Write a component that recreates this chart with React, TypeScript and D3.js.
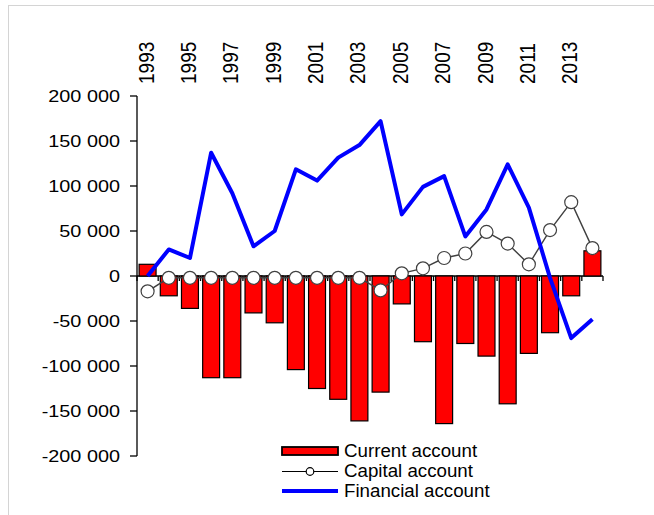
import { useEffect, useRef } from "react";
import * as d3 from "d3";

// categories
const years = [
  "1993", "1994", "1995", "1996", "1997", "1998", "1999", "2000", "2001", "2002", "2003",
  "2004", "2005", "2006", "2007", "2008", "2009", "2010", "2011", "2012", "2013", "2014",
];
const yearLabels = ["1993", "1995", "1997", "1999", "2001", "2003", "2005", "2007", "2009", "2011", "2013"];

// series
const currentAccount = [
  13000, -22000, -36000, -113000, -113000, -41000, -52000, -104000, -125000, -137000, -161000,
  -129000, -31000, -73000, -164000, -75000, -89000, -142000, -86000, -63000, -22000, 28000,
];
const capitalAccount = [
  -17000, -2000, -2000, -2000, -2000, -2000, -2000, -2000, -2000, -2000, -2000,
  -16000, 3000, 8500, 20000, 25000, 49000, 36000, 13000, 51000, 82000, 31000,
];
const financialAccount = [
  0, 29500, 20000, 137000, 92000, 33000, 50000, 118500, 106000, 131500, 145500,
  172000, 68500, 99000, 111000, 44000, 74000, 124000, 76000, -2000, -69000, -48000,
];

const yTicks = [200000, 150000, 100000, 50000, 0, -50000, -100000, -150000, -200000];
const legendItems = ["Current account", "Capital account", "Financial account"];

const FONT = "'Liberation Sans', Arial, sans-serif";

const App = () => {
  const svgRef = useRef(null);

  useEffect(() => {
    const svg = d3.select(svgRef.current);
    svg.selectAll("*").remove();

    const width = 654;
    const height = 515;
    const left = 137, right = 603, top = 96, bottom = 456;

    const x = d3.scaleBand().domain(years).range([left, right]).paddingInner(0.2).paddingOuter(0.1);
    const step = x.step();
    const cx = (yr) => x(yr) + x.bandwidth() / 2;
    const y = d3.scaleLinear().domain([-200000, 200000]).range([bottom, top]);

    const fmt = d3.formatLocale({ decimal: ",", thousands: " ", grouping: [3], currency: ["", ""], minus: "-" }).format(",");

    // cadre gris (haut et gauche)
    svg.append("rect")
      .attr("x", 8.5).attr("y", 5.5)
      .attr("width", width + 20).attr("height", height + 20)
      .attr("fill", "white").attr("stroke", "#d4d4d4");

    const g = svg.append("g");

    // axe Y
    g.append("line")
      .attr("x1", left).attr("x2", left).attr("y1", top).attr("y2", bottom)
      .attr("stroke", "#000").attr("stroke-width", 1.3);
    yTicks.forEach((t) => {
      g.append("line")
        .attr("x1", left - 7).attr("x2", left).attr("y1", y(t)).attr("y2", y(t))
        .attr("stroke", "#000").attr("stroke-width", 1.3);
      g.append("text")
        .attr("transform", `translate(120,${y(t) + 5.8}) scale(1.24,1)`)
        .attr("text-anchor", "end")
        .attr("font-family", FONT).attr("font-size", 16).attr("fill", "#000")
        .text(fmt(t));
    });

    // axe X à zéro
    g.append("line")
      .attr("x1", left).attr("x2", right).attr("y1", y(0)).attr("y2", y(0))
      .attr("stroke", "#000").attr("stroke-width", 1.3);
    d3.range(years.length + 1).forEach((i) => {
      const xx = left + i * step;
      g.append("line")
        .attr("x1", xx).attr("x2", xx).attr("y1", y(0)).attr("y2", y(0) + 5)
        .attr("stroke", "#000").attr("stroke-width", 1.3);
    });

    // années en haut
    yearLabels.forEach((yr) => {
      g.append("text")
        .attr("transform", `translate(${cx(yr) + 6},84) rotate(-90) scale(1,1.15)`)
        .attr("text-anchor", "start")
        .attr("font-family", FONT).attr("font-size", 19).attr("fill", "#000")
        .text(yr);
    });

    // barres
    g.selectAll(".bar")
      .data(currentAccount)
      .enter()
      .append("rect")
      .attr("class", "bar")
      .attr("x", (d, i) => x(years[i]))
      .attr("y", (d) => y(Math.max(0, d)))
      .attr("width", x.bandwidth())
      .attr("height", (d) => Math.abs(y(d) - y(0)))
      .attr("fill", "#ff0000")
      .attr("stroke", "#000")
      .attr("stroke-width", 1.2);

    // compte de capital
    const line = d3.line().x((d, i) => cx(years[i])).y((d) => y(d));
    g.append("path")
      .attr("d", line(capitalAccount))
      .attr("fill", "none").attr("stroke", "#404040").attr("stroke-width", 1.4);
    g.selectAll(".dot")
      .data(capitalAccount)
      .enter()
      .append("circle")
      .attr("class", "dot")
      .attr("cx", (d, i) => cx(years[i]))
      .attr("cy", (d) => y(d))
      .attr("r", 6.5)
      .attr("fill", "#fff").attr("stroke", "#404040").attr("stroke-width", 1.2);

    // compte financier
    g.append("path")
      .attr("d", line(financialAccount))
      .attr("fill", "none").attr("stroke", "#0000ff").attr("stroke-width", 4)
      .attr("stroke-linejoin", "round");

    // légende
    const lx1 = 282, lx2 = 338;
    const rows = [451, 471.5, 491];
    g.append("rect")
      .attr("x", lx1).attr("y", rows[0] - 4).attr("width", lx2 - lx1).attr("height", 8)
      .attr("fill", "#ff0000").attr("stroke", "#000").attr("stroke-width", 1.8);
    g.append("line")
      .attr("x1", lx1).attr("x2", lx2).attr("y1", rows[1]).attr("y2", rows[1])
      .attr("stroke", "#000").attr("stroke-width", 1.2);
    g.append("circle")
      .attr("cx", (lx1 + lx2) / 2).attr("cy", rows[1]).attr("r", 3.8)
      .attr("fill", "#fff").attr("stroke", "#000").attr("stroke-width", 1.2);
    g.append("line")
      .attr("x1", lx1).attr("x2", lx2).attr("y1", rows[2]).attr("y2", rows[2])
      .attr("stroke", "#0000ff").attr("stroke-width", 4);
    legendItems.forEach((name, i) => {
      g.append("text")
        .attr("transform", `translate(344,${rows[i] + 5.5}) scale(1.07,1)`)
        .attr("font-family", FONT).attr("font-size", 17.5).attr("fill", "#000")
        .text(name);
    });
  }, []);

  return (
    <svg
      ref={svgRef}
      width={654}
      height={515}
      style={{ position: "absolute", left: 0, top: 0, display: "block" }}
    ></svg>
  );
};

export default App;
